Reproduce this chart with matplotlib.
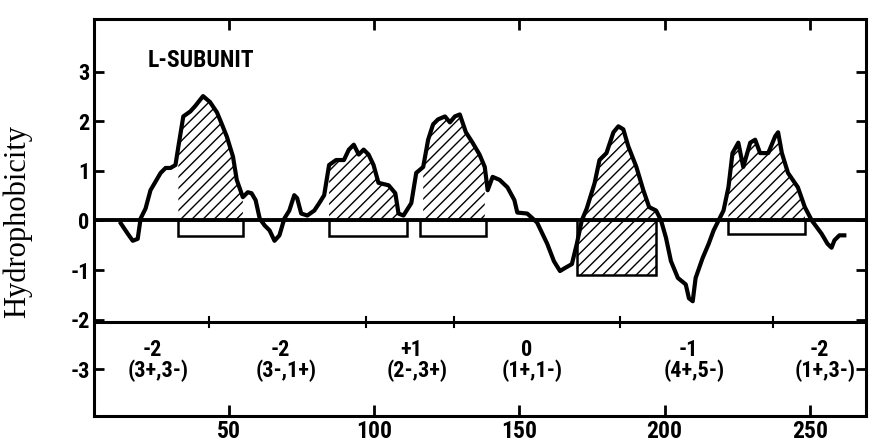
import numpy as np
import matplotlib.pyplot as plt
from matplotlib.patches import Rectangle

plt.rcParams['axes.unicode_minus'] = False

# hydrophobicity profile (residue number, value)
residue = [12.8, 15.2, 16.9, 18.6, 19.6, 21.3, 23.0, 24.7, 26.5, 28.2, 29.9, 31.6,
           32.6, 34.3, 36.7, 38.4, 41.1, 43.5, 45.9, 47.6, 49.3, 51.4, 52.7, 54.8,
           56.5, 57.8, 59.2, 60.6, 62.3, 64.0, 65.7, 67.4, 69.1, 70.8, 72.5, 73.5,
           74.9, 77.0, 79.4, 81.1, 82.8, 84.5, 86.9, 89.6, 91.3, 93.0, 94.7, 96.4,
           98.1, 99.8, 101.5, 105.0, 107.3, 108.4, 110.1, 112.8, 114.5, 116.9, 118.6,
           120.3, 122.0, 124.4, 126.1, 127.8, 129.5, 131.6, 133.9, 136.3, 138.1,
           139.1, 140.8, 143.2, 145.9, 148.3, 149.3, 152.7, 156.1, 159.6, 161.9,
           164.0, 165.7, 168.1, 169.8, 171.5, 173.2, 175.9, 177.6, 180.0, 182.4,
           184.1, 185.8, 187.5, 190.3, 192.7, 194.7, 197.1, 198.8, 200.5, 202.2,
           204.6, 207.3, 208.4, 209.7, 210.7, 213.1, 215.2, 216.9, 218.6, 220.3,
           222.0, 223.4, 225.4, 227.1, 229.5, 231.2, 232.9, 235.7, 238.1, 239.1,
           240.4, 242.5, 245.9, 248.3, 250.7, 254.1, 256.1, 257.5, 258.5, 260.2, 261.9]
hydro = [-0.06, -0.27, -0.41, -0.37, 0.04, 0.24, 0.61, 0.78, 0.96, 1.06, 1.06, 1.12,
         1.49, 2.10, 2.20, 2.31, 2.51, 2.39, 2.18, 1.94, 1.69, 1.29, 0.82, 0.47,
         0.57, 0.55, 0.41, 0.04, -0.10, -0.20, -0.41, -0.30, 0.04, 0.20, 0.51, 0.45,
         0.14, 0.10, 0.20, 0.35, 0.51, 1.12, 1.22, 1.22, 1.43, 1.53, 1.33, 1.43,
         1.33, 1.12, 0.76, 0.71, 0.55, 0.14, 0.10, 0.35, 0.96, 1.08, 1.63,
         1.94, 2.04, 2.10, 1.98, 2.10, 2.14, 1.78, 1.57, 1.33, 1.08,
         0.61, 0.88, 0.82, 0.67, 0.41, 0.16, 0.14, -0.04, -0.47, -0.82,
         -1.02, -0.96, -0.88, -0.47, 0.0, 0.24, 0.75, 1.22, 1.36, 1.78,
         1.90, 1.84, 1.50, 1.08, 0.61, 0.27, 0.20, 0.0, -0.35, -0.82,
         -1.16, -1.29, -1.57, -1.63, -1.16, -0.76, -0.47, -0.20, 0.0, 0.20,
         0.67, 1.36, 1.57, 1.08, 1.57, 1.63, 1.36, 1.36, 1.70, 1.78,
         1.36, 0.96, 0.67, 0.27, 0.0, -0.27, -0.47, -0.55, -0.40, -0.30, -0.30]

# transmembrane segments
helix_start = [32.6, 84.5, 116.9, 169.8, 222.0]
helix_end = [54.8, 108.4, 138.1, 197.1, 248.3]
box_start = [32.6, 84.5, 115.9, 169.8, 221.7]
box_end = [54.8, 111.4, 138.4, 197.1, 248.3]
box_bottom = [-0.32, -0.32, -0.32, -1.1, -0.28]
box_hatched = [False, False, False, True, False]

# charge annotations between segments
section_x = [25.5, 69.7, 114.8, 154.5, 210.3, 255.2]
section_net = ["-2", "-2", "+1", "0", "-1", "-2"]
section_charge = ["(3+,3-)", "(3-,1+)", "(2-,3+)", "(1+,1-)", "(4+,5-)", "(1+,3-)"]
divider_x = [43.1, 97.2, 127.6, 184.8, 237.2]

xticks = [50, 100, 150, 200, 250]
yticks = [-3, -2, -1, 0, 1, 2, 3]

narrow = ['Liberation Sans Narrow', 'DejaVu Sans Condensed', 'Roboto Condensed',
          'Open Sans Condensed', 'DejaVu Sans']
bold = dict(family=narrow, weight='bold', stretch='condensed')

fig = plt.figure(figsize=(8.69, 4.48), dpi=100)
ax = fig.add_axes([0.108, 0.071, 0.889, 0.887])

res = np.array(residue)
hyd = np.array(hydro)
for a, b, hb, hat in zip(helix_start, helix_end, box_bottom, box_hatched):
    m = (res >= a) & (res <= b)
    base = hb if hat else 0
    ax.fill_between(res[m], base, hyd[m], facecolor='white', edgecolor='black',
                    hatch='///', linewidth=0, zorder=1)
for a, b, hb in zip(box_start, box_end, box_bottom):
    ax.add_patch(Rectangle((a, hb), b - a, -hb, fill=False, edgecolor='black',
                           linewidth=1.8, zorder=2))

ax.axhline(0, color='black', lw=2.8, zorder=3)
ax.plot(res, hyd, color='black', lw=3, solid_joinstyle='round', zorder=4)

# lower panel divider with small ticks
ax.axhline(-2.05, color='black', lw=2.2)
for d in divider_x:
    ax.plot([d, d], [-2.15, -1.95], color='black', lw=1.5)
for sx, n, c in zip(section_x, section_net, section_charge):
    ax.text(sx - 2, -2.62, n, ha='center', va='center', fontsize=16, **bold)
    ax.text(sx, -3.04, c, ha='center', va='center', fontsize=16, **bold)

ax.text(22, 3.22, "L-SUBUNIT", ha='left', va='center', fontsize=17, **bold)

ax.set_xlim(3.5, 269.5)
ax.set_ylim(-3.95, 4.07)
ax.set_xticks(xticks)
ax.set_yticks(yticks)
ax.tick_params(axis='x', direction='in', length=8, width=2, pad=3,
               top=True, labelsize=17)
ax.tick_params(axis='y', direction='in', length=7, width=2, pad=3,
               right=True, labelsize=16)
for lab in ax.get_xticklabels() + ax.get_yticklabels():
    lab.set_family(narrow)
    lab.set_weight('bold')
    lab.set_stretch('condensed')
for s in ax.spines.values():
    s.set_linewidth(2.2)

ax.set_ylabel("Hydrophobicity", family='Liberation Serif', fontsize=22)
ax.yaxis.set_label_coords(-0.08, 0.49)

fig.savefig("out.png", dpi=100)
